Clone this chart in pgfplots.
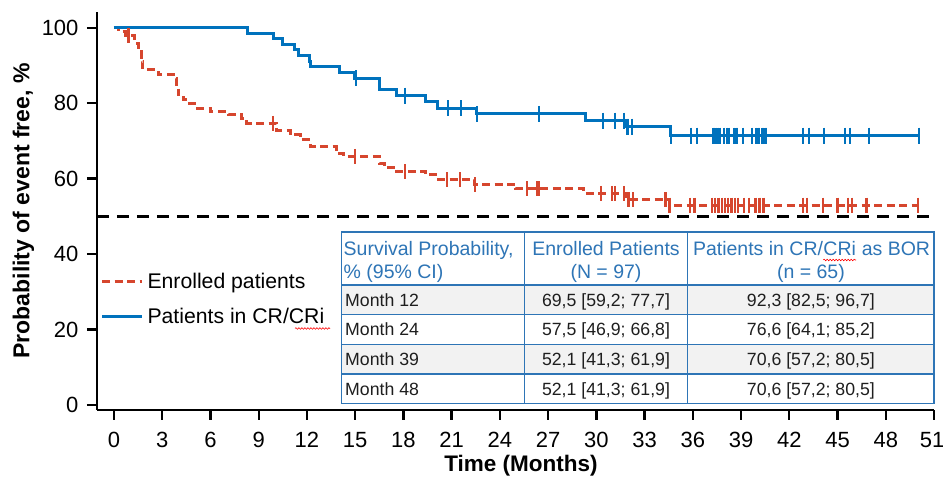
\documentclass[border=0pt]{standalone}
\usepackage{fontspec}
\setmainfont{Liberation Sans}
\usepackage{pgfplots}
\pgfplotsset{compat=1.18}
\usetikzlibrary{decorations.pathmorphing}
\definecolor{kmred}{RGB}{214,70,46}
\definecolor{kmblue}{RGB}{0,114,189}
\definecolor{tblblue}{RGB}{46,117,182}
\definecolor{tblgray}{RGB}{242,242,242}
\definecolor{txt}{RGB}{30,30,30}
\newcommand\hfont{\fontsize{19.5}{23}\selectfont}
\newcommand\bfont{\fontsize{17.7}{21}\selectfont}
\tikzset{squig/.style={red, line width=0.6pt, decorate, decoration={snake, amplitude=0.8pt, segment length=3pt}}}
\begin{document}
\begin{tikzpicture}
\begin{axis}[
  scale only axis, width=837pt, height=398pt,
  xmin=-1.057, xmax=51, ymin=-1.33, ymax=104.2,
  axis x line*=bottom, axis y line*=left,
  axis line style={line width=2.6pt, -},
  xtick={0,3,...,51}, ytick={0,20,...,100},
  xticklabels={0,3,6,9,12,15,18,21,24,27,30,33,36,39,42,45,48,{\hspace*{-4pt}51}},
  tick align=outside,
  major tick length=10pt,
  every tick/.style={black, line width=2.4pt},
  ticklabel style={font=\fontsize{22}{26}\selectfont},
  xticklabel style={inner sep=1pt, yshift=-11.3pt},
  yticklabel style={xshift=-5pt},
  /pgf/number format/assume math mode=true,
  xlabel={\textbf{Time (Months)}},
  ylabel={\textbf{Probability of event free, \%}},
  every axis x label/.style={at={(axis description cs:0.5066,-0.1407)}, anchor=center, font=\fontsize{22.5}{26}\selectfont},
  every axis y label/.style={at={(axis description cs:-0.088,0.5)}, rotate=90, anchor=center, font=\fontsize{23}{27}\selectfont},
  legend style={draw=none, fill=none, at={(0.004,0.349)}, anchor=north west,
    font=\fontsize{21.2}{25}\selectfont, row sep=14pt, inner sep=0pt,
    nodes={inner sep=2pt}},
  legend cell align=left,
  legend image code/.code={\draw[#1] (0pt,0pt) -- (40pt,0pt);},
  clip=false,
]
\addplot[black, line width=3pt, dash pattern=on 12pt off 8pt, forget plot] coordinates {(-1.057,50) (51,50)};

\addplot[kmred, line width=3pt, dash pattern=on 8pt off 4.5pt, const plot] coordinates {
(0,100) (0.27,99.0) (0.7,97.9) (1.3,95.9) (1.5,93.7) (1.7,91.1) (1.8,88.9) (2.75,87.5)
(3.7,86.6) (3.9,84.9) (4.0,82.2) (4.3,80.9) (4.7,80.0) (5.0,78.7) (6.0,77.8) (7.1,77.1)
(7.9,76.0) (8.25,74.7) (10.1,72.9) (10.95,71.6) (11.6,70.3) (12.2,68.5) (13.85,66.7)
(14.3,65.9) (16.5,64.1) (16.8,63.0) (17.6,61.9) (19.4,61.0) (20.2,59.7) (22.45,58.4)
(25.0,57.3) (29.2,56.1) (31.9,54.4) (34.55,53.0) (50.0,53.0)};
\addlegendentry{\hspace{2pt}Enrolled patients}

\addplot[kmblue, line width=3pt, const plot] coordinates {
(0,100) (8.3,98.5) (9.9,97.2) (10.5,95.7) (11.25,94.2) (11.5,92.6) (12.15,91.1)
(12.25,89.7) (14.0,88.1) (14.95,86.6) (16.5,83.6) (17.6,82.0) (19.4,80.4) (20.1,78.7)
(22.55,77.2) (29.3,75.4) (31.8,73.8) (34.6,71.4) (50.08,71.4)};
\addlegendentry{\hspace{2pt}Patients in CR/CRi}

\addplot[kmred, only marks, mark=|, mark size=7.5pt, mark options={line width=2.2pt, solid}, forget plot] coordinates {
(0.9,97.9) (9.9,74.7) (15.0,65.9) (18.1,61.9) (20.7,59.7) (21.5,59.7) (22.45,58.4)
(25.7,57.3) (26.3,57.3) (26.45,57.3) (30.3,56.1) (30.95,56.1) (31.15,56.1) (31.7,56.1)
(32.0,54.4) (32.3,54.4) (34.3,54.4) (34.55,53.0) (35.8,53.0) (36.1,53.0) (37.2,53.0)
(37.4,53.0) (37.6,53.0) (37.8,53.0) (38.0,53.0) (38.2,53.0) (38.4,53.0) (38.6,53.0)
(38.8,53.0) (39.2,53.0) (39.5,53.0) (39.9,53.0) (40.1,53.0) (40.2,53.0) (40.4,53.0)
(42.85,53.0) (43.1,53.0) (44.1,53.0) (45.0,53.0) (45.65,53.0) (45.9,53.0) (46.8,53.0)
(50.0,53.0)};

\addplot[kmblue, only marks, mark=|, mark size=8pt, mark options={line width=1.9pt}, forget plot] coordinates {
(15.05,86.6) (18.1,82.0) (20.8,78.7) (21.6,78.7) (22.55,77.2) (26.45,77.2)
(30.4,75.4) (31.15,75.4) (31.7,75.4) (31.9,73.8) (32.0,73.8) (32.2,73.8) (34.65,71.4)
(35.86,71.4) (36.24,71.4) (37.23,71.4) (37.33,71.4) (37.44,71.4) (37.58,71.4) (37.69,71.4)
(37.95,71.4) (38.1,71.4) (38.25,71.4) (38.56,71.4) (38.68,71.4) (38.76,71.4) (39.14,71.4)
(39.66,71.4) (39.93,71.4) (40.03,71.4) (40.13,71.4) (40.28,71.4) (40.38,71.4) (40.49,71.4)
(40.55,71.4) (42.83,71.4) (43.24,71.4) (44.15,71.4) (45.46,71.4) (45.77,71.4) (46.97,71.4)
(50.08,71.4)};
\end{axis}

% spell-check squiggle under CRi in legend
\draw[squig] (198pt,81.5pt) -- (233pt,81.5pt);

% table
\fill[white] (244.7pt,6.2pt) rectangle (837pt,178pt);
\fill[tblgray] (244.7pt,95.3pt) rectangle (837pt,125pt);
\fill[tblgray] (244.7pt,35.9pt) rectangle (837pt,65.6pt);
\draw[tblblue, line width=1.4pt] (244.7pt,6.2pt) rectangle (837pt,178pt);
\foreach \yy in {125,95.3,65.6,35.9} \draw[tblblue, line width=1.4pt] (244.7pt,\yy pt) -- (837pt,\yy pt);
\foreach \xx in {427.3,590.7} \draw[tblblue, line width=1.4pt] (\xx pt,6.2pt) -- (\xx pt,178pt);

\begin{scope}[every node/.style={inner sep=0pt, text=tblblue, font=\hfont}]
\node[anchor=base west] at (246.5pt,154pt) {Survival Probability,};
\node[anchor=base west] at (246.5pt,131pt) {\% (95\% CI)};
\node[anchor=base] at (509pt,154pt) {Enrolled Patients};
\node[anchor=base] at (509pt,131pt) {(N = 97)};
\node[anchor=base west] (pa) at (595.8pt,154pt) {Patients in CR/};
\node[anchor=base west] (pb) at (pa.base east) {CRi};
\node[anchor=base west] at (pb.base east) {\ as BOR};
\node[anchor=base] at (713.9pt,131pt) {(n = 65)};
\end{scope}
\draw[squig] ([yshift=-4pt]pb.base west) -- ([yshift=-4pt]pb.base east);

\begin{scope}[every node/.style={inner sep=0pt, text=txt, font=\bfont}]
\node[anchor=base west] at (248pt,103.8pt) {Month 12};
\node[anchor=base] at (509pt,103.8pt) {69,5 [59,2; 77,7]};
\node[anchor=base] at (713.9pt,103.8pt) {92,3 [82,5; 96,7]};
\node[anchor=base west] at (248pt,74.1pt) {Month 24};
\node[anchor=base] at (509pt,74.1pt) {57,5 [46,9; 66,8]};
\node[anchor=base] at (713.9pt,74.1pt) {76,6 [64,1; 85,2]};
\node[anchor=base west] at (248pt,44.4pt) {Month 39};
\node[anchor=base] at (509pt,44.4pt) {52,1 [41,3; 61,9]};
\node[anchor=base] at (713.9pt,44.4pt) {70,6 [57,2; 80,5]};
\node[anchor=base west] at (248pt,14.7pt) {Month 48};
\node[anchor=base] at (509pt,14.7pt) {52,1 [41,3; 61,9]};
\node[anchor=base] at (713.9pt,14.7pt) {70,6 [57,2; 80,5]};
\end{scope}

\pgfresetboundingbox
\useasboundingbox (-97pt,-71pt) rectangle (846pt,410pt);
\end{tikzpicture}
\end{document}
